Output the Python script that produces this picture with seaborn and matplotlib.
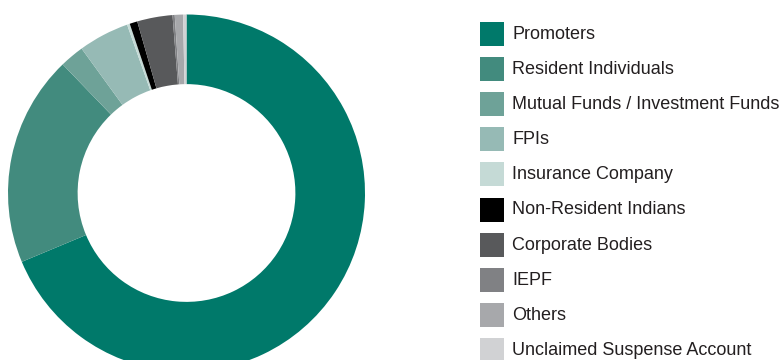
import matplotlib
matplotlib.use("Agg")
import matplotlib.pyplot as plt
from matplotlib.patches import Rectangle
import seaborn as sns

# Shareholding pattern (% of equity)
categories = [
    "Promoters",
    "Resident Individuals",
    "Mutual Funds / Investment Funds",
    "FPIs",
    "Insurance Company",
    "Non-Resident Indians",
    "Corporate Bodies",
    "IEPF",
    "Others",
    "Unclaimed Suspense Account",
]
shares = [68.7, 19.1, 2.2, 4.6, 0.25, 0.7, 3.2, 0.2, 0.75, 0.3]
colors = [
    "#00796A", "#428B7E", "#6EA298", "#96BAB5", "#C5DAD6",
    "#000000", "#58595B", "#808184", "#A7A8AB", "#D1D2D4",
]

sns.set_theme(style="white")
plt.rcParams["font.family"] = ["Liberation Sans", "DejaVu Sans"]

W, H = 779, 360
fig = plt.figure(figsize=(W / 100, H / 100), dpi=100)
fig.patch.set_facecolor("white")

# donut axes: 1 data unit = outer radius
cx, cy, r = 186.5, H - 193.0, 178.5
ax = fig.add_axes([(cx - r) / W, (cy - r) / H, 2 * r / W, 2 * r / H])
wedges, _ = ax.pie(
    shares,
    colors=colors,
    startangle=90,
    counterclock=False,
    radius=1.0,
    wedgeprops=dict(width=0.39, linewidth=0),
)
ax.set_xlim(-1, 1)
ax.set_ylim(-1, 1)
ax.set_aspect("equal")
ax.axis("off")

# legend panel in pixel coordinates (y grows downward)
lax = fig.add_axes([0, 0, 1, 1], zorder=-1)
lax.set_xlim(0, W)
lax.set_ylim(H, 0)
lax.axis("off")
row_top, row_step, box = 22.0, 35.1, 24.0
for i, (label, c) in enumerate(zip(categories, colors)):
    y0 = row_top + i * row_step
    lax.add_patch(Rectangle((480, y0), box, box, facecolor=c, edgecolor="none"))
    lax.text(512, y0 + box / 2 + 0.5, label, fontsize=13, color="#231F20",
             va="center", ha="left")

fig.savefig("out.png", dpi=100, facecolor="white")
